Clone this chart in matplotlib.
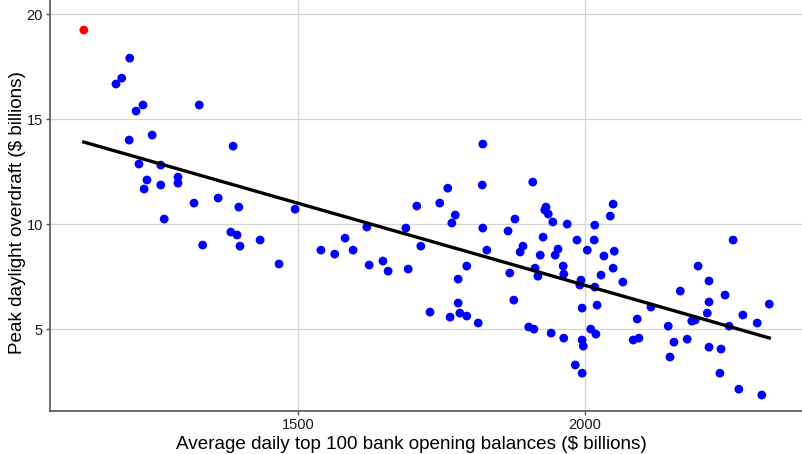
import numpy as np
import matplotlib
matplotlib.use("Agg")
from matplotlib import pyplot as plt

plt.rcParams['font.family'] = ['Liberation Sans', 'DejaVu Sans']

# average daily top 100 bank opening balances ($ billions)
balances = [
    1207, 1193, 1183, 1230, 1218, 1328, 1206, 1246, 1387, 1223,
    1261, 1291, 1291, 1237, 1232, 1261, 1319, 1361, 1397, 1267,
    1383, 1394, 1334, 1399, 1495, 1434, 1467, 1540, 1564, 1582,
    1596, 1620, 1624, 1648, 1657, 1688, 1707, 1692, 1714, 1747,
    1822, 1761, 1774, 1768, 1821, 1822, 1909, 1932, 1930, 1936,
    1944, 1969, 1878, 1866, 1927, 1892, 1887, 1829, 1794, 1779,
    1869, 1922, 1953, 1948, 1913, 1918, 1962, 1963, 1986, 2004,
    2016, 2017, 2044, 2049, 2033, 2051, 2049, 2028, 1993, 1991,
    2017, 1876, 1730, 1779, 1782, 1794, 1765, 1814, 1902, 1911,
    1941, 1963, 1995, 2021, 2010, 2019, 1995, 1997, 1983, 1995,
    2066, 2258, 2197, 2216, 2166, 2244, 2216, 2115, 2091, 2145,
    2186, 2192, 2213, 2251, 2275, 2300, 2321, 2084, 2094, 2155,
    2178, 2148, 2216, 2237, 2235, 2268, 2308,
]

# peak daylight overdraft ($ billions)
overdraft = [
    17.90, 16.95, 16.67, 15.67, 15.38, 15.67, 14.00, 14.24, 13.71, 12.86,
    12.81, 12.24, 11.95, 12.10, 11.67, 11.86, 11.00, 11.24, 10.81, 10.24,
    9.62, 9.48, 9.00, 8.95, 10.71, 9.24, 8.10, 8.76, 8.57, 9.33,
    8.76, 9.86, 8.05, 8.24, 7.76, 9.81, 10.86, 7.86, 8.95, 11.00,
    13.81, 11.71, 10.43, 10.05, 11.86, 9.81, 12.00, 10.81, 10.67, 10.48,
    10.10, 10.00, 10.24, 9.67, 9.38, 8.95, 8.67, 8.76, 8.00, 7.38,
    7.67, 8.52, 8.81, 8.52, 7.90, 7.52, 8.00, 7.62, 9.24, 8.76,
    9.24, 9.95, 10.38, 10.95, 8.48, 8.71, 7.90, 7.57, 7.33, 7.10,
    7.00, 6.38, 5.81, 6.24, 5.76, 5.62, 5.57, 5.29, 5.10, 5.00,
    4.81, 4.57, 6.00, 6.14, 5.00, 4.76, 4.48, 4.19, 3.29, 2.90,
    7.24, 9.24, 8.00, 7.29, 6.81, 6.62, 6.29, 6.05, 5.48, 5.14,
    5.38, 5.43, 5.76, 5.14, 5.67, 5.29, 6.19, 4.48, 4.57, 4.38,
    4.52, 3.67, 4.14, 4.05, 2.90, 2.14, 1.86,
]

# highlighted observation
outlier_balance = [1127]
outlier_overdraft = [19.24]

x_all = np.array(balances + outlier_balance, dtype=float)
y_all = np.array(overdraft + outlier_overdraft, dtype=float)
slope, intercept = np.polyfit(x_all, y_all, 1)
fit_x = np.array([x_all.min(), x_all.max()])
fit_y = slope * fit_x + intercept

fig = plt.figure(figsize=(8.02, 4.54), dpi=100)
ax = fig.add_axes([0.0623, 0.0947, 0.9377, 0.9053])

ax.grid(True, color='#d4d4d4', linewidth=0.9)
ax.set_axisbelow(True)

ax.scatter(balances, overdraft, s=40, color='#0000ff', edgecolors='none',
           zorder=3)
ax.scatter(outlier_balance, outlier_overdraft, s=40, color='#ff0000',
           edgecolors='none', zorder=3)
ax.plot(fit_x, fit_y, color='black', linewidth=2.4, zorder=4)

ax.set_xlim(1068, 2378)
ax.set_ylim(1.1, 20.67)
ax.set_xticks([1500, 2000])
ax.set_yticks([5, 10, 15, 20])

for side in ['top', 'right']:
    ax.spines[side].set_visible(False)
for side in ['left', 'bottom']:
    ax.spines[side].set_color('#555555')
    ax.spines[side].set_linewidth(1.2)

ax.tick_params(axis='both', length=3, width=1, color='#555555',
               labelsize=10.5, labelcolor='#1a1a1a', pad=2)

ax.set_xlabel("Average daily top 100 bank opening balances ($ billions)",
              fontsize=13.6)
ax.set_ylabel("Peak daylight overdraft ($ billions)", fontsize=13.6)
# labels sit a little off the panel centre, as in the original
ax.xaxis.set_label_coords(0.481, -0.060)
ax.yaxis.set_label_coords(-0.032, 0.484)

fig.savefig("out.png", dpi=100)
plt.close(fig)
